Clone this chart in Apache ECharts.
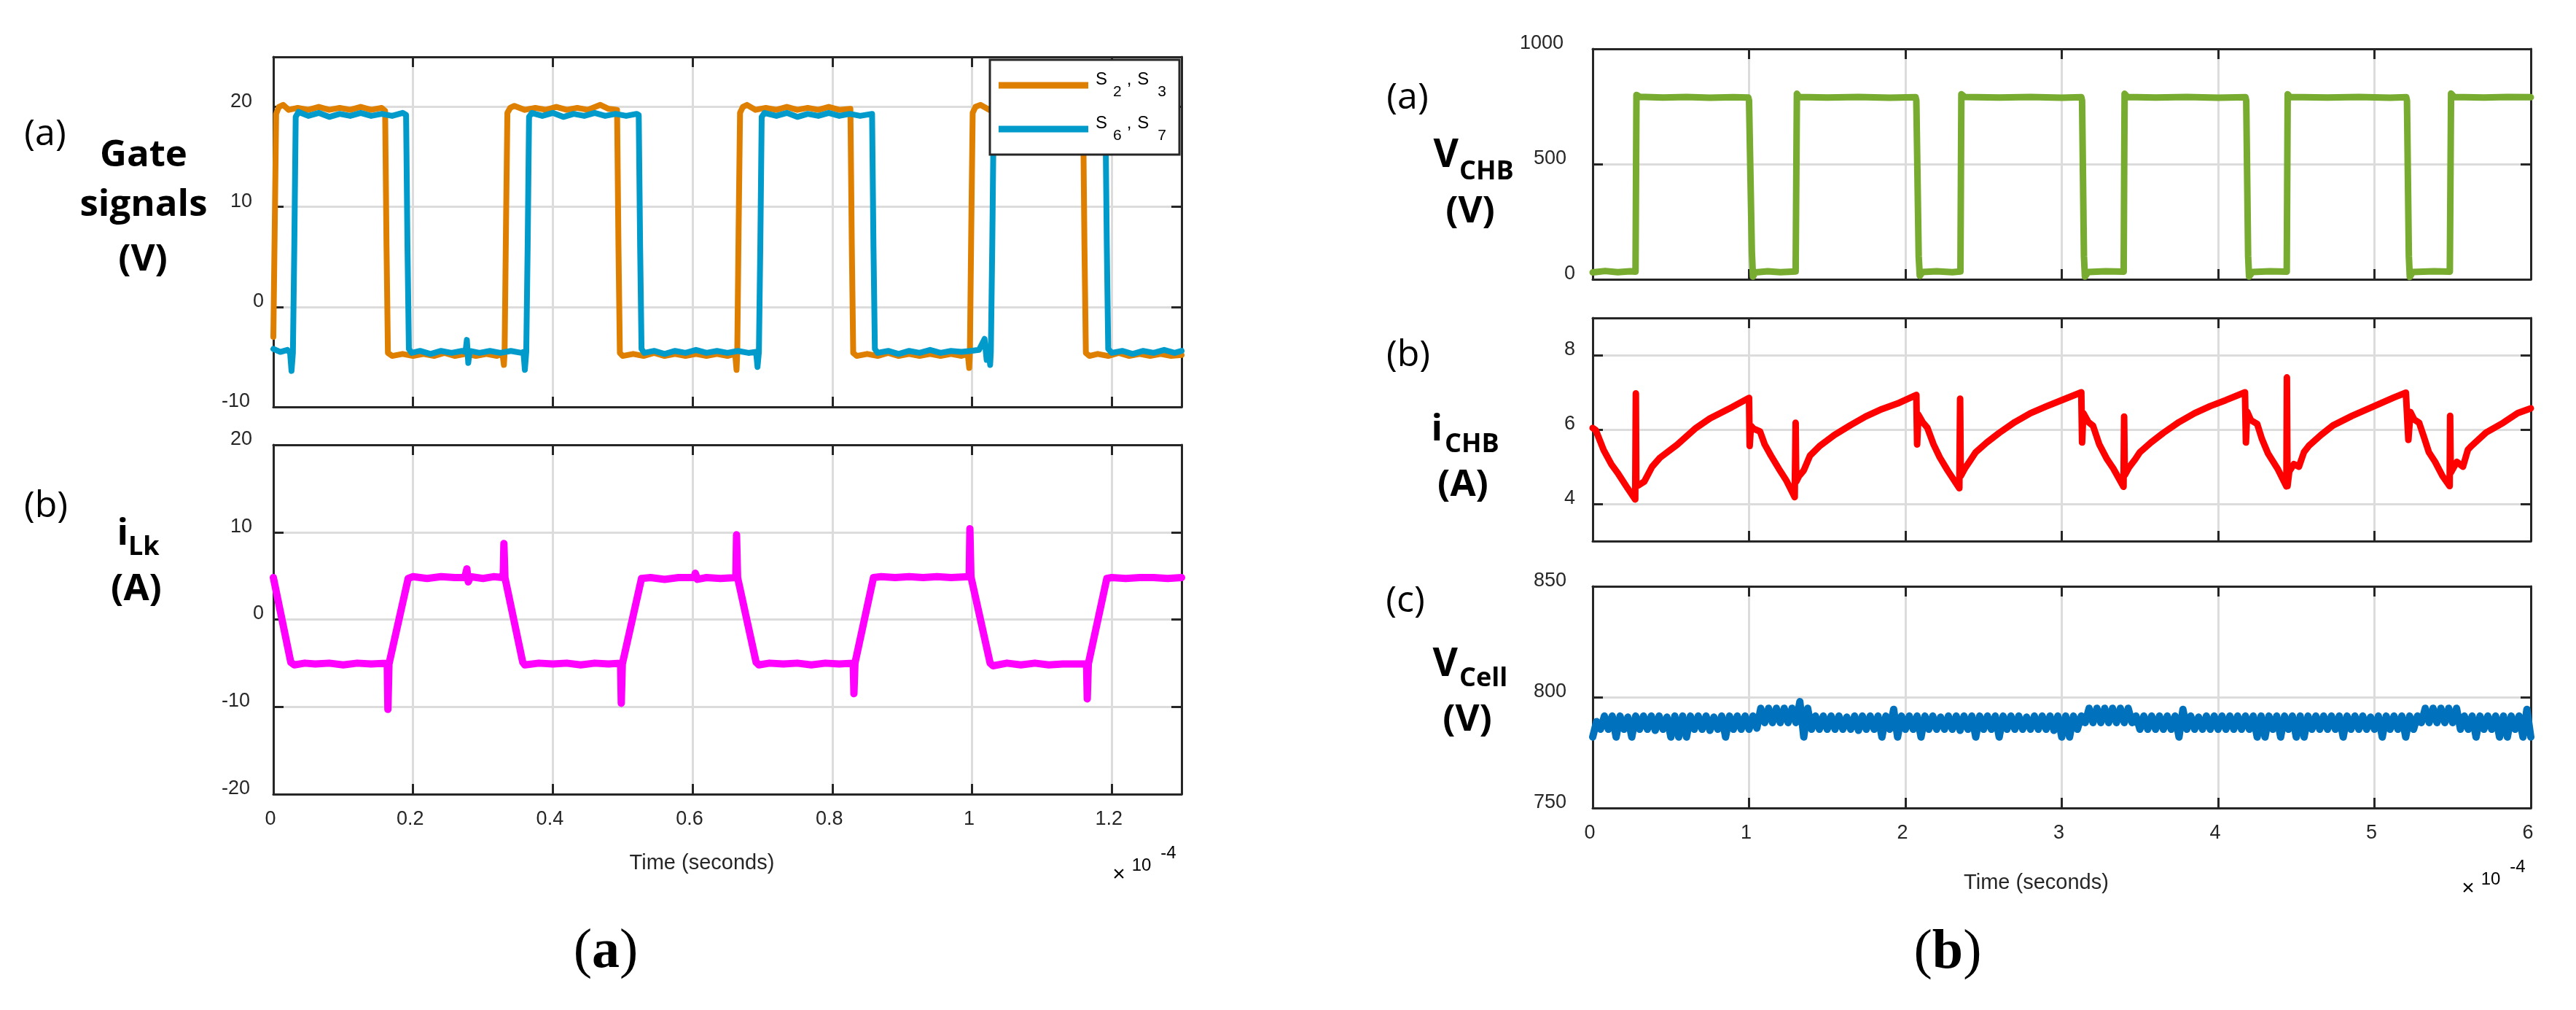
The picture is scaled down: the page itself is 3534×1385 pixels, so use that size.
<!DOCTYPE html>
<html><head><meta charset="utf-8">
<script src="https://cdn.jsdelivr.net/npm/echarts@6/dist/echarts.min.js"></script>
<style>html,body{margin:0;padding:0;background:#fff}#c{width:3534px;height:1385px}</style>
</head><body><div id="c"></div>
<script>
// ---------- DATA (time in units of 1e-4 s) ----------
const gateS23 = [
 [0,-3.0],[0.002,8],[0.004,19.3],[0.008,20.0],[0.014,20.2],[0.022,19.7],[0.035,19.9],[0.05,19.7],[0.065,20.0],[0.08,19.7],[0.095,19.9],[0.11,19.7],[0.125,20.0],[0.14,19.7],[0.155,19.9],[0.160,19.6],
 [0.162,6],[0.164,-4.6],[0.170,-4.9],[0.185,-4.7],[0.20,-4.9],[0.215,-4.7],[0.23,-4.9],[0.245,-4.6],[0.26,-4.9],[0.275,-4.7],[0.29,-4.9],[0.305,-4.7],[0.32,-4.9],[0.328,-4.7],[0.330,-5.8],[0.331,-4.6],
 [0.333,8],[0.335,19.4],[0.339,19.9],[0.345,20.1],[0.36,19.7],[0.375,19.9],[0.39,19.7],[0.405,20.0],[0.42,19.7],[0.435,19.9],[0.45,19.7],[0.468,20.2],[0.48,19.8],[0.492,19.7],
 [0.494,6],[0.496,-4.6],[0.50,-4.9],[0.515,-4.7],[0.53,-4.9],[0.545,-4.6],[0.56,-4.9],[0.575,-4.7],[0.59,-4.9],[0.605,-4.7],[0.62,-4.9],[0.635,-4.7],[0.65,-4.9],[0.661,-4.7],[0.663,-6.3],[0.664,-4.6],
 [0.666,8],[0.668,19.4],[0.672,20.0],[0.678,20.2],[0.69,19.7],[0.705,19.9],[0.72,19.7],[0.735,20.0],[0.75,19.7],[0.765,19.9],[0.78,19.7],[0.795,20.0],[0.81,19.7],[0.826,19.8],
 [0.828,6],[0.830,-4.6],[0.835,-4.9],[0.85,-4.7],[0.865,-4.9],[0.88,-4.6],[0.895,-4.9],[0.91,-4.7],[0.925,-4.9],[0.94,-4.7],[0.955,-4.9],[0.97,-4.7],[0.985,-4.9],[0.994,-4.7],[0.996,-6.1],[0.997,-4.6],
 [0.999,8],[1.001,19.4],[1.005,20.0],[1.012,20.2],[1.025,19.7],[1.04,19.9],[1.055,19.7],[1.07,20.0],[1.085,19.7],[1.10,19.9],[1.115,19.7],[1.13,20.0],[1.145,19.7],[1.159,19.8],
 [1.161,6],[1.163,-4.6],[1.168,-4.9],[1.18,-4.7],[1.195,-4.9],[1.21,-4.6],[1.225,-4.9],[1.24,-4.7],[1.255,-4.9],[1.27,-4.7],[1.285,-4.9],[1.30,-4.8]
];
const gateS67 = [
 [0,-4.2],[0.01,-4.5],[0.02,-4.3],[0.024,-4.6],[0.026,-6.4],[0.028,-4.6],
 [0.030,6],[0.032,19.0],[0.036,19.5],[0.05,19.1],[0.065,19.4],[0.08,19.0],[0.095,19.3],[0.11,19.1],[0.125,19.4],[0.14,19.1],[0.155,19.3],[0.17,19.1],[0.185,19.4],[0.190,19.2],
 [0.192,6],[0.194,-4.2],[0.198,-4.6],[0.21,-4.4],[0.225,-4.7],[0.24,-4.4],[0.255,-4.6],[0.27,-4.4],[0.275,-4.5],[0.277,-3.3],[0.279,-5.6],[0.281,-4.4],[0.295,-4.6],[0.31,-4.4],[0.325,-4.6],[0.34,-4.4],[0.355,-4.6],[0.358,-4.5],[0.360,-6.3],[0.362,-4.5],
 [0.364,6],[0.366,19.0],[0.37,19.4],[0.385,19.1],[0.40,19.4],[0.415,19.0],[0.43,19.3],[0.445,19.1],[0.46,19.4],[0.475,19.1],[0.49,19.3],[0.505,19.1],[0.52,19.3],[0.523,19.2],
 [0.525,6],[0.527,-4.2],[0.531,-4.6],[0.545,-4.4],[0.56,-4.7],[0.575,-4.4],[0.59,-4.6],[0.605,-4.3],[0.62,-4.6],[0.635,-4.4],[0.65,-4.6],[0.665,-4.4],[0.68,-4.6],[0.691,-4.5],[0.693,-6.0],[0.695,-4.5],
 [0.697,6],[0.699,19.0],[0.703,19.4],[0.72,19.1],[0.735,19.4],[0.75,19.0],[0.765,19.3],[0.78,19.1],[0.795,19.4],[0.81,19.1],[0.825,19.3],[0.84,19.1],[0.857,19.3],
 [0.859,6],[0.861,-4.2],[0.865,-4.6],[0.88,-4.4],[0.895,-4.7],[0.91,-4.4],[0.925,-4.6],[0.94,-4.3],[0.955,-4.6],[0.97,-4.4],[0.985,-4.5],[0.998,-4.4],[1.010,-4.3],[1.018,-3.2],[1.021,-5.3],[1.024,-4.4],[1.026,-5.8],[1.027,-4.5],
 [1.029,6],[1.031,19.0],[1.035,19.4],[1.05,19.1],[1.065,19.4],[1.08,19.0],[1.095,19.3],[1.11,19.1],[1.125,19.4],[1.14,19.1],[1.155,19.3],[1.17,19.1],[1.191,19.3],
 [1.193,6],[1.195,-4.2],[1.20,-4.6],[1.215,-4.4],[1.23,-4.7],[1.245,-4.4],[1.26,-4.6],[1.275,-4.3],[1.29,-4.6],[1.30,-4.4]
];
const iLk = [
 [0,4.8],[0.025,-4.9],[0.03,-5.2],[0.045,-5.0],[0.06,-5.1],[0.08,-5.0],[0.10,-5.2],[0.12,-5.0],[0.14,-5.1],[0.163,-5.0],[0.164,-10.3],[0.1655,-5.1],
 [0.193,4.7],[0.20,4.9],[0.22,4.7],[0.24,4.9],[0.26,4.8],[0.274,4.8],[0.277,5.8],[0.279,4.3],[0.282,4.9],[0.30,4.7],[0.315,4.9],[0.329,4.8],[0.330,8.7],[0.3315,4.8],
 [0.357,-4.9],[0.36,-5.2],[0.38,-5.0],[0.40,-5.1],[0.42,-5.0],[0.44,-5.2],[0.46,-5.0],[0.48,-5.1],[0.497,-5.0],[0.498,-9.6],[0.4995,-5.1],
 [0.527,4.7],[0.54,4.8],[0.56,4.6],[0.58,4.8],[0.602,4.8],[0.604,5.3],[0.607,4.6],[0.62,4.8],[0.64,4.7],[0.662,4.8],[0.663,9.7],[0.6645,4.8],
 [0.691,-4.9],[0.695,-5.2],[0.71,-5.0],[0.73,-5.1],[0.75,-5.0],[0.77,-5.2],[0.79,-5.0],[0.81,-5.1],[0.830,-5.0],[0.831,-8.5],[0.8325,-5.0],
 [0.859,4.8],[0.87,4.9],[0.89,4.8],[0.91,4.9],[0.93,4.8],[0.95,4.9],[0.97,4.8],[0.996,4.9],[0.997,10.4],[0.9985,4.9],
 [1.026,-5.0],[1.03,-5.3],[1.05,-5.0],[1.07,-5.2],[1.09,-5.0],[1.11,-5.2],[1.13,-5.1],[1.164,-5.1],[1.165,-9.1],[1.1665,-5.1],
 [1.193,4.7],[1.20,4.8],[1.22,4.7],[1.24,4.8],[1.26,4.8],[1.28,4.7],[1.30,4.8]
];
const vChb = [
 [0,30],[0.08,36],[0.16,31],[0.24,35],[0.274,33],[0.277,420],[0.280,800],[0.30,792],[0.45,789],[0.6,791],[0.75,788],[0.9,790],[0.995,789],[1.0,775],[1.018,120],[1.025,12],[1.04,30],[1.12,35],[1.2,31],[1.298,34],
 [1.302,420],[1.306,805],[1.32,791],[1.5,789],[1.7,791],[1.9,788],[2.065,790],[2.07,775],[2.085,100],[2.092,15],[2.11,32],[2.2,35],[2.3,31],[2.352,34],
 [2.355,420],[2.358,803],[2.38,791],[2.6,789],[2.8,791],[3.0,788],[3.125,790],[3.13,775],[3.142,100],[3.148,12],[3.17,32],[3.28,35],[3.396,33],
 [3.399,420],[3.402,805],[3.42,791],[3.6,789],[3.8,791],[4.0,788],[4.175,790],[4.18,775],[4.192,100],[4.198,12],[4.22,32],[4.33,35],[4.439,33],
 [4.442,420],[4.445,803],[4.46,791],[4.7,789],[4.9,791],[5.1,788],[5.203,790],[5.208,775],[5.22,100],[5.226,10],[5.245,32],[5.38,35],[5.482,33],
 [5.486,420],[5.49,806],[5.51,791],[5.7,789],[5.85,791],[6.0,790]
];
const iChb = [
 [0,6.04],[0.02,5.98],[0.07,5.45],[0.12,5.06],[0.165,4.8],[0.225,4.41],[0.272,4.12],[0.276,6.97],[0.279,4.47],[0.30,4.52],[0.33,4.6],[0.38,5.0],[0.43,5.24],[0.54,5.59],[0.66,6.04],[0.75,6.3],[0.89,6.6],[1.0,6.85],
 [1.004,5.56],[1.012,6.1],[1.03,6.02],[1.07,5.95],[1.10,5.6],[1.14,5.3],[1.19,4.95],[1.24,4.62],[1.292,4.18],[1.298,6.18],[1.302,4.6],[1.32,4.75],[1.35,4.9],[1.39,5.3],[1.45,5.55],[1.545,5.85],[1.65,6.12],[1.746,6.35],[1.85,6.55],[1.95,6.7],[2.07,6.93],
 [2.075,5.6],[2.083,6.4],[2.11,6.2],[2.14,6.05],[2.18,5.6],[2.22,5.25],[2.27,4.9],[2.345,4.42],[2.350,6.83],[2.354,4.75],[2.38,4.95],[2.42,5.2],[2.45,5.39],[2.52,5.65],[2.6,5.91],[2.7,6.2],[2.8,6.44],[2.9,6.62],[3.0,6.79],[3.125,7.0],
 [3.13,5.65],[3.138,6.44],[3.17,6.2],[3.2,6.1],[3.24,5.6],[3.29,5.2],[3.33,4.95],[3.395,4.46],[3.399,6.35],[3.403,4.77],[3.43,4.98],[3.47,5.2],[3.5,5.39],[3.57,5.65],[3.65,5.91],[3.75,6.2],[3.85,6.44],[3.95,6.63],[4.05,6.79],[4.172,7.0],
 [4.178,5.65],[4.186,6.48],[4.21,6.25],[4.25,6.15],[4.28,5.75],[4.32,5.35],[4.38,4.95],[4.437,4.47],[4.440,7.40],[4.444,4.48],[4.455,4.87],[4.485,5.07],[4.517,5.0],[4.549,5.39],[4.58,5.56],[4.657,5.85],[4.735,6.11],[4.858,6.37],[4.999,6.63],[5.124,6.86],[5.201,6.99],
 [5.217,5.72],[5.23,6.47],[5.254,6.27],[5.286,6.18],[5.318,5.78],[5.348,5.39],[5.388,5.13],[5.435,4.75],[5.481,4.48],[5.484,6.37],[5.488,4.84],[5.527,5.13],[5.566,5.0],[5.598,5.46],[5.621,5.56],[5.714,5.92],[5.823,6.18],[5.916,6.44],[6.0,6.57]
];
const vCellStep = 0.025; // sample spacing (1e-4 s)
const vCell = [
 782,789,785.5,791.5,785.5,791.5,782,791.5,785.5,791,782,791.5,785.5,791.5,785.5,791.5,785,791.5,785.5,791,
 782,791.5,782,791.5,782,791.5,785.5,791.5,785.5,791.5,785,791,785.5,791.5,782,791.5,785.5,791.5,785.5,791.5,
 785.5,791.5,786,795,788.5,795,788.5,795,788.5,795,788.5,795,788.5,798,782,795,785.5,791.5,785.5,791.5,
 785.5,791.5,785.5,791.5,785.5,791,785.5,791.5,785,791.5,785.5,791.5,785.5,791.5,782,791.5,785.5,794.5,782,791.5,
 785.5,791.5,785.5,791.5,782,791.5,785.5,791.5,785.5,791,785.5,791.5,785.5,791.5,785,791.5,785.5,791.5,782,791.5,
 785.5,791.5,785.5,791.5,782,791.5,785.5,791.5,785.5,791.5,785.5,791,785.5,791.5,785.5,791.5,785.5,791.5,785,791.5,
 782,791.5,782,791.5,785.5,791.5,788.5,795,788.5,795,788.5,795,788.5,795,788.5,795,788.5,795,788.5,791.5,
 785.5,791.5,785.5,791.5,785.5,791.5,785.5,791.5,785.5,791.5,782,794.5,785.5,791.5,785.5,791,785.5,791.5,785.5,791.5,
 785.5,791.5,785.5,791.5,785.5,791.5,785.5,791.5,785.5,791.5,782,791.5,782,791.5,785.5,791.5,782,791.5,785.5,791.5,
 782,791.5,782,791.5,785.5,791.5,785.5,791.5,785.5,791.5,785.5,791.5,782,791.5,785.5,791.5,785.5,791.5,785.5,791,
 785.5,791.5,782,791.5,785.5,791.5,785.5,791.5,782,791.5,785.5,791.5,788.5,795,788.5,795,788.5,795,788.5,795,
 788.5,795,785.5,791.5,785.5,791.5,782,791.5,785.5,791.5,785.5,791.5,782,791.5,782,791.5,785.5,791.5,782,794.5,782
];
const xTicksLeft = [0, 1.3, 0.2];   // min, max, interval
const xTicksRight = [0, 6, 1];
const legendNames = ['S2, S3', 'S6, S7'];

// ---------- STYLE ----------
const AX = '#262626', GRIDC = '#dcdcdc';
const FONT = 'Liberation Sans';
const grids = [
  {left:375, top:78, width:1246, height:480},
  {left:375, top:610, width:1246, height:479},
  {left:2185, top:67, width:1287, height:316},
  {left:2185, top:436, width:1287, height:306},
  {left:2185, top:804, width:1287, height:304}
];
function xPair(gi, t, showLabels, gap) {
  const common = {type:'value', gridIndex:gi, min:t[0], max:t[1], interval:t[2],
    axisLine:{show:true, onZero:false, lineStyle:{color:AX, width:3}},
    axisTick:{show:true, inside:true, length:14, lineStyle:{color:AX, width:3}}};
  const bottom = Object.assign({}, common, {position:'bottom',
    splitLine:{show:true, lineStyle:{color:GRIDC, width:3}},
    axisLabel:{show:showLabels, showMaxLabel: t[1] % t[2] === 0, margin:21, fontSize:27, fontFamily:FONT, color:AX, padding:[0,8,0,0]}});
  if (showLabels) {
    bottom.name = 'Time (seconds)'; bottom.nameLocation = 'middle'; bottom.nameGap = gap;
    bottom.nameTextStyle = {fontSize:29, fontFamily:FONT, color:AX, padding:[0,70,0,0]};
  }
  const top = Object.assign({}, common, {position:'top', splitLine:{show:false}, axisLabel:{show:false}});
  return [bottom, top];
}
function yPair(gi, min, max, interval, side) {
  const pads = side === 'L' ? {1:0, 2:16, 3:19, 4:22} : {1:0, 2:8, 3:12, 4:16};
  const rich = {};
  for (const k in pads) rich['l' + k] = {fontSize:27, fontFamily:FONT, color:AX, padding:[0, pads[k], 15, 0]};
  const common = {type:'value', gridIndex:gi, min, max,
    axisLine:{show:true, onZero:false, lineStyle:{color:AX, width:3}},
    axisTick:{show:true, inside:true, length:14, lineStyle:{color:AX, width:3}}};
  if (interval) { common.interval = interval; } else { common.splitNumber = 3; }
  const left = Object.assign({}, common, {position:'left',
    splitLine:{show:true, lineStyle:{color:GRIDC, width:3}},
    axisLabel:{show:true, showMaxLabel: interval ? (max % interval === 0) : false, showMinLabel: interval ? true : false,
      margin: side === 'L' ? 13 : 24,
      formatter: v => { const s = String(v); return '{l' + s.length + '|' + s + '}'; }, rich}});
  const right = Object.assign({}, common, {position:'right', splitLine:{show:false}, axisLabel:{show:false}});
  return [left, right];
}
const xAxis = [].concat(xPair(0, xTicksLeft, false), xPair(1, xTicksLeft, true, 80),
  xPair(2, xTicksRight, false), xPair(3, xTicksRight, false), xPair(4, xTicksRight, true, 88));
const yAxis = [].concat(yPair(0, -10, 25, 10, 'L'), yPair(1, -20, 20, 10, 'L'),
  yPair(2, 0, 1000, 500, 'R'), yPair(3, 3, 9, null, 'R'), yPair(4, 750, 850, 50, 'R'));

function line(name, data, gi, color, w) {
  return {type:'line', name, data, xAxisIndex:gi*2, yAxisIndex:gi*2, showSymbol:false, symbol:'none',
    animation:false, silent:true, lineStyle:{color, width:w, cap:'round', join:'round'}, itemStyle:{color}};
}
const vCellData = vCell.map((v, i) => [i * vCellStep, v]);

function T(x, y, text, size, weight, align, family) {
  return {type:'text', x, y, silent:true, style:{text, fontSize:size, fontWeight:weight||'normal',
    fontFamily:family||'Open Sans', fill:'#000', align:align||'center', verticalAlign:'middle',
    textAlign:align||'center', textVerticalAlign:'middle'}};
}
function cap(x, y, letter) {
  return {type:'text', x, y, silent:true, style:{text:'{p|(}{b|' + letter + '}{p|)}', align:'center', verticalAlign:'middle',
    textAlign:'center', textVerticalAlign:'middle',
    rich:{p:{fontFamily:'Liberation Serif', fontSize:76, fill:'#000'}, b:{fontFamily:'Liberation Serif', fontSize:76, fontWeight:'bold', fill:'#000'}}}};
}
function sci(rx, by) {
  return [T(rx - 86, by + 111, '×', 30, 'normal', 'center', FONT),
          T(rx - 55, by + 98, '10', 24, 'normal', 'center', FONT),
          T(rx - 18, by + 81, '-4', 24, 'normal', 'center', FONT)];
}
const graphic = [
  T(62, 185, '(a)', 50), T(197, 213, 'Gate', 51, 'bold'), T(197, 281, 'signals', 51, 'bold'), T(196, 356, '(V)', 51, 'bold'),
  T(63, 695, '(b)', 50), T(176, 732, 'i', 51, 'bold', 'right'), T(176, 751, 'Lk', 36, 'bold', 'left'), T(187, 808, '(A)', 51, 'bold'),
  T(1931, 135, '(a)', 50), T(2001, 214, 'V', 53, 'bold', 'right'), T(2002, 236, 'CHB', 36, 'bold', 'left'), T(2017, 290, '(V)', 51, 'bold'),
  T(1932, 488, '(b)', 50), T(1979, 589, 'i', 51, 'bold', 'right'), T(1982, 610, 'CHB', 36, 'bold', 'left'), T(2007, 665, '(A)', 51, 'bold'),
  T(1928, 825, '(c)', 50), T(2000, 912, 'V', 53, 'bold', 'right'), T(2002, 931, 'Cell', 36, 'bold', 'left'), T(2013, 987, '(V)', 51, 'bold'),
  cap(831, 1306, 'a'), cap(2672, 1307, 'b')
].concat(sci(1621, 1089), sci(3472, 1108));

const chart = echarts.init(document.getElementById('c'), null, {renderer:'canvas'});
chart.setOption({
  animation:false,
  backgroundColor:'#fff',
  grid: grids.map(g => Object.assign({containLabel:false}, g)),
  xAxis, yAxis,
  legend: {
    data: legendNames.map(n => ({name:n, icon:'rect'})),
    orient:'vertical', left:1358, top:82, itemWidth:123, itemHeight:9, itemGap:20,
    padding:[15, 18, 15, 12], borderColor:AX, borderWidth:3, backgroundColor:'#fff', selectedMode:false,
    formatter: n => { const p = n.split(', '); return '{s|S}{b|' + p[0].slice(1) + '}{c|,}{s|S}{b2|' + p[1].slice(1) + '}'; },
    textStyle: {padding:[0,0,0,5],
      rich: {
        s:{fontSize:24, fontFamily:FONT, color:'#000', lineHeight:19, verticalAlign:'top'},
        c:{fontSize:24, fontFamily:FONT, color:'#000', lineHeight:19, verticalAlign:'top', padding:[0,8,0,7]},
        b:{fontSize:21, fontFamily:FONT, color:'#000', lineHeight:40, verticalAlign:'bottom', padding:[0,0,0,8]},
        b2:{fontSize:21, fontFamily:FONT, color:'#000', lineHeight:40, verticalAlign:'bottom', padding:[0,0,0,12]}
      }}
  },
  graphic,
  series: [
    line(legendNames[0], gateS23, 0, '#DF7F00', 8),
    line(legendNames[1], gateS67, 0, '#009BCB', 8),
    line('iLk', iLk, 1, '#FF00FF', 10),
    line('VCHB', vChb, 2, '#77AC30', 9),
    line('iCHB', iChb, 3, '#FF0000', 9),
    line('VCell', vCellData, 4, '#0072BD', 10)
  ]
});
</script></body></html>
